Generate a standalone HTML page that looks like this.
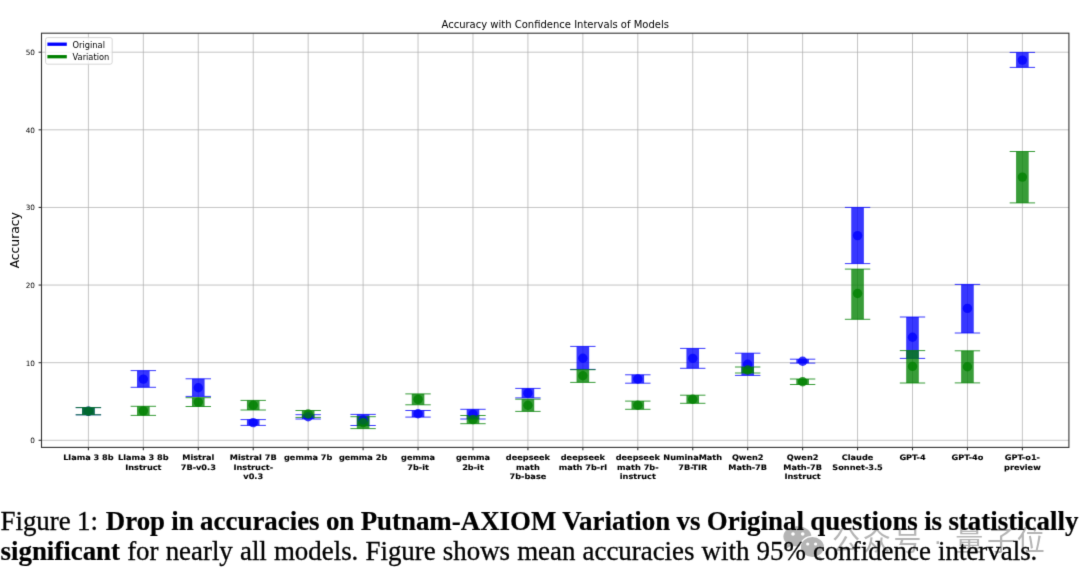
<!DOCTYPE html>
<html><head><meta charset="utf-8"><title>Accuracy with Confidence Intervals of Models</title>
<style>
html,body{margin:0;padding:0;background:#fff;}
body{width:1080px;height:586px;position:relative;overflow:hidden;}
#wrap{position:absolute;left:0;top:0;width:1080px;height:586px;background:#fff;filter:url(#bl);}
.cap{position:absolute;left:0.5px;font-family:"Liberation Serif","Times New Roman",serif;font-size:26.9px;color:#000;white-space:nowrap;line-height:1;-webkit-text-stroke:0.3px #000;}
.cap b{-webkit-text-stroke:0.2px #000;}
.l1{top:508px;word-spacing:-0.4px;}
.sp{margin-left:1.5px;}
.l2{top:537.8px;word-spacing:0.4px;}
.wm{position:absolute;left:0;top:0;}
</style></head><body>
<svg width="0" height="0" style="position:absolute"><filter id="bl" x="0" y="0" width="100%" height="100%" color-interpolation-filters="sRGB"><feConvolveMatrix order="3" kernelMatrix="0.0113 0.0838 0.0113 0.0838 0.6193 0.0838 0.0113 0.0838 0.0113" edgeMode="duplicate"/></filter></svg>
<div id="wrap">
<svg width="1080" height="586" viewBox="0 0 1080 586" style="position:absolute;left:0;top:0">
<text x="555.2" y="27.9" font-family="DejaVu Sans, sans-serif" font-size="10" text-anchor="middle" fill="#000">Accuracy with Confidence Intervals of Models</text>
<g stroke="#b0b0b0" stroke-width="0.75">
<line x1="88.40" x2="88.40" y1="33.2" y2="447.4"/>
<line x1="143.34" x2="143.34" y1="33.2" y2="447.4"/>
<line x1="198.28" x2="198.28" y1="33.2" y2="447.4"/>
<line x1="253.22" x2="253.22" y1="33.2" y2="447.4"/>
<line x1="308.16" x2="308.16" y1="33.2" y2="447.4"/>
<line x1="363.10" x2="363.10" y1="33.2" y2="447.4"/>
<line x1="418.04" x2="418.04" y1="33.2" y2="447.4"/>
<line x1="472.98" x2="472.98" y1="33.2" y2="447.4"/>
<line x1="527.92" x2="527.92" y1="33.2" y2="447.4"/>
<line x1="582.86" x2="582.86" y1="33.2" y2="447.4"/>
<line x1="637.80" x2="637.80" y1="33.2" y2="447.4"/>
<line x1="692.74" x2="692.74" y1="33.2" y2="447.4"/>
<line x1="747.68" x2="747.68" y1="33.2" y2="447.4"/>
<line x1="802.62" x2="802.62" y1="33.2" y2="447.4"/>
<line x1="857.56" x2="857.56" y1="33.2" y2="447.4"/>
<line x1="912.50" x2="912.50" y1="33.2" y2="447.4"/>
<line x1="967.44" x2="967.44" y1="33.2" y2="447.4"/>
<line x1="1022.38" x2="1022.38" y1="33.2" y2="447.4"/>
<line x1="41.5" x2="1068.9" y1="440.30" y2="440.30"/>
<line x1="41.5" x2="1068.9" y1="362.68" y2="362.68"/>
<line x1="41.5" x2="1068.9" y1="285.06" y2="285.06"/>
<line x1="41.5" x2="1068.9" y1="207.44" y2="207.44"/>
<line x1="41.5" x2="1068.9" y1="129.82" y2="129.82"/>
<line x1="41.5" x2="1068.9" y1="52.20" y2="52.20"/>
</g>
<rect x="82.10" y="407.60" width="12.6" height="7.20" fill="#0000ff" fill-opacity="0.78"/>
<rect x="137.04" y="370.60" width="12.6" height="16.70" fill="#0000ff" fill-opacity="0.78"/>
<rect x="191.98" y="378.80" width="12.6" height="17.60" fill="#0000ff" fill-opacity="0.78"/>
<rect x="246.92" y="419.60" width="12.6" height="5.80" fill="#0000ff" fill-opacity="0.78"/>
<rect x="301.86" y="414.70" width="12.6" height="4.30" fill="#0000ff" fill-opacity="0.78"/>
<rect x="356.80" y="414.40" width="12.6" height="11.10" fill="#0000ff" fill-opacity="0.78"/>
<rect x="411.74" y="410.50" width="12.6" height="6.60" fill="#0000ff" fill-opacity="0.78"/>
<rect x="466.68" y="409.30" width="12.6" height="9.70" fill="#0000ff" fill-opacity="0.78"/>
<rect x="521.62" y="388.40" width="12.6" height="9.50" fill="#0000ff" fill-opacity="0.78"/>
<rect x="576.56" y="346.40" width="12.6" height="23.00" fill="#0000ff" fill-opacity="0.78"/>
<rect x="631.50" y="374.80" width="12.6" height="8.40" fill="#0000ff" fill-opacity="0.78"/>
<rect x="686.44" y="348.40" width="12.6" height="19.90" fill="#0000ff" fill-opacity="0.78"/>
<rect x="741.38" y="353.20" width="12.6" height="22.20" fill="#0000ff" fill-opacity="0.78"/>
<rect x="796.32" y="359.20" width="12.6" height="3.90" fill="#0000ff" fill-opacity="0.78"/>
<rect x="851.26" y="207.40" width="12.6" height="56.20" fill="#0000ff" fill-opacity="0.78"/>
<rect x="906.20" y="317.00" width="12.6" height="41.40" fill="#0000ff" fill-opacity="0.78"/>
<rect x="961.14" y="284.40" width="12.6" height="48.60" fill="#0000ff" fill-opacity="0.78"/>
<rect x="1016.08" y="52.40" width="12.6" height="15.00" fill="#0000ff" fill-opacity="0.78"/>
<line x1="75.70" x2="101.10" y1="407.60" y2="407.60" stroke="#0000ff" stroke-opacity="0.78" stroke-width="1.0"/>
<line x1="75.70" x2="101.10" y1="414.80" y2="414.80" stroke="#0000ff" stroke-opacity="0.78" stroke-width="1.0"/>
<line x1="130.64" x2="156.04" y1="370.60" y2="370.60" stroke="#0000ff" stroke-opacity="0.78" stroke-width="1.0"/>
<line x1="130.64" x2="156.04" y1="387.30" y2="387.30" stroke="#0000ff" stroke-opacity="0.78" stroke-width="1.0"/>
<line x1="185.58" x2="210.98" y1="378.80" y2="378.80" stroke="#0000ff" stroke-opacity="0.78" stroke-width="1.0"/>
<line x1="185.58" x2="210.98" y1="396.40" y2="396.40" stroke="#0000ff" stroke-opacity="0.78" stroke-width="1.0"/>
<line x1="240.52" x2="265.92" y1="419.60" y2="419.60" stroke="#0000ff" stroke-opacity="0.78" stroke-width="1.0"/>
<line x1="240.52" x2="265.92" y1="425.40" y2="425.40" stroke="#0000ff" stroke-opacity="0.78" stroke-width="1.0"/>
<line x1="295.46" x2="320.86" y1="414.70" y2="414.70" stroke="#0000ff" stroke-opacity="0.78" stroke-width="1.0"/>
<line x1="295.46" x2="320.86" y1="419.00" y2="419.00" stroke="#0000ff" stroke-opacity="0.78" stroke-width="1.0"/>
<line x1="350.40" x2="375.80" y1="414.40" y2="414.40" stroke="#0000ff" stroke-opacity="0.78" stroke-width="1.0"/>
<line x1="350.40" x2="375.80" y1="425.50" y2="425.50" stroke="#0000ff" stroke-opacity="0.78" stroke-width="1.0"/>
<line x1="405.34" x2="430.74" y1="410.50" y2="410.50" stroke="#0000ff" stroke-opacity="0.78" stroke-width="1.0"/>
<line x1="405.34" x2="430.74" y1="417.10" y2="417.10" stroke="#0000ff" stroke-opacity="0.78" stroke-width="1.0"/>
<line x1="460.28" x2="485.68" y1="409.30" y2="409.30" stroke="#0000ff" stroke-opacity="0.78" stroke-width="1.0"/>
<line x1="460.28" x2="485.68" y1="419.00" y2="419.00" stroke="#0000ff" stroke-opacity="0.78" stroke-width="1.0"/>
<line x1="515.22" x2="540.62" y1="388.40" y2="388.40" stroke="#0000ff" stroke-opacity="0.78" stroke-width="1.0"/>
<line x1="515.22" x2="540.62" y1="397.90" y2="397.90" stroke="#0000ff" stroke-opacity="0.78" stroke-width="1.0"/>
<line x1="570.16" x2="595.56" y1="346.40" y2="346.40" stroke="#0000ff" stroke-opacity="0.78" stroke-width="1.0"/>
<line x1="570.16" x2="595.56" y1="369.40" y2="369.40" stroke="#0000ff" stroke-opacity="0.78" stroke-width="1.0"/>
<line x1="625.10" x2="650.50" y1="374.80" y2="374.80" stroke="#0000ff" stroke-opacity="0.78" stroke-width="1.0"/>
<line x1="625.10" x2="650.50" y1="383.20" y2="383.20" stroke="#0000ff" stroke-opacity="0.78" stroke-width="1.0"/>
<line x1="680.04" x2="705.44" y1="348.40" y2="348.40" stroke="#0000ff" stroke-opacity="0.78" stroke-width="1.0"/>
<line x1="680.04" x2="705.44" y1="368.30" y2="368.30" stroke="#0000ff" stroke-opacity="0.78" stroke-width="1.0"/>
<line x1="734.98" x2="760.38" y1="353.20" y2="353.20" stroke="#0000ff" stroke-opacity="0.78" stroke-width="1.0"/>
<line x1="734.98" x2="760.38" y1="375.40" y2="375.40" stroke="#0000ff" stroke-opacity="0.78" stroke-width="1.0"/>
<line x1="789.92" x2="815.32" y1="359.20" y2="359.20" stroke="#0000ff" stroke-opacity="0.78" stroke-width="1.0"/>
<line x1="789.92" x2="815.32" y1="363.10" y2="363.10" stroke="#0000ff" stroke-opacity="0.78" stroke-width="1.0"/>
<line x1="844.86" x2="870.26" y1="207.40" y2="207.40" stroke="#0000ff" stroke-opacity="0.78" stroke-width="1.0"/>
<line x1="844.86" x2="870.26" y1="263.60" y2="263.60" stroke="#0000ff" stroke-opacity="0.78" stroke-width="1.0"/>
<line x1="899.80" x2="925.20" y1="317.00" y2="317.00" stroke="#0000ff" stroke-opacity="0.78" stroke-width="1.0"/>
<line x1="899.80" x2="925.20" y1="358.40" y2="358.40" stroke="#0000ff" stroke-opacity="0.78" stroke-width="1.0"/>
<line x1="954.74" x2="980.14" y1="284.40" y2="284.40" stroke="#0000ff" stroke-opacity="0.78" stroke-width="1.0"/>
<line x1="954.74" x2="980.14" y1="333.00" y2="333.00" stroke="#0000ff" stroke-opacity="0.78" stroke-width="1.0"/>
<line x1="1009.68" x2="1035.08" y1="52.40" y2="52.40" stroke="#0000ff" stroke-opacity="0.78" stroke-width="1.0"/>
<line x1="1009.68" x2="1035.08" y1="67.40" y2="67.40" stroke="#0000ff" stroke-opacity="0.78" stroke-width="1.0"/>
<rect x="82.10" y="407.60" width="12.6" height="7.20" fill="#008000" fill-opacity="0.78"/>
<rect x="137.04" y="406.30" width="12.6" height="9.10" fill="#008000" fill-opacity="0.78"/>
<rect x="191.98" y="397.70" width="12.6" height="8.80" fill="#008000" fill-opacity="0.78"/>
<rect x="246.92" y="400.40" width="12.6" height="9.60" fill="#008000" fill-opacity="0.78"/>
<rect x="301.86" y="410.50" width="12.6" height="6.90" fill="#008000" fill-opacity="0.78"/>
<rect x="356.80" y="416.70" width="12.6" height="11.90" fill="#008000" fill-opacity="0.78"/>
<rect x="411.74" y="393.90" width="12.6" height="10.90" fill="#008000" fill-opacity="0.78"/>
<rect x="466.68" y="415.50" width="12.6" height="8.20" fill="#008000" fill-opacity="0.78"/>
<rect x="521.62" y="399.20" width="12.6" height="12.20" fill="#008000" fill-opacity="0.78"/>
<rect x="576.56" y="369.70" width="12.6" height="12.70" fill="#008000" fill-opacity="0.78"/>
<rect x="631.50" y="401.10" width="12.6" height="8.20" fill="#008000" fill-opacity="0.78"/>
<rect x="686.44" y="395.20" width="12.6" height="8.10" fill="#008000" fill-opacity="0.78"/>
<rect x="741.38" y="367.00" width="12.6" height="6.00" fill="#008000" fill-opacity="0.78"/>
<rect x="796.32" y="379.00" width="12.6" height="5.50" fill="#008000" fill-opacity="0.78"/>
<rect x="851.26" y="269.10" width="12.6" height="50.20" fill="#008000" fill-opacity="0.78"/>
<rect x="906.20" y="350.60" width="12.6" height="32.40" fill="#008000" fill-opacity="0.78"/>
<rect x="961.14" y="350.80" width="12.6" height="32.10" fill="#008000" fill-opacity="0.78"/>
<rect x="1016.08" y="151.50" width="12.6" height="51.40" fill="#008000" fill-opacity="0.78"/>
<line x1="75.70" x2="101.10" y1="407.60" y2="407.60" stroke="#008000" stroke-opacity="0.78" stroke-width="1.0"/>
<line x1="75.70" x2="101.10" y1="414.80" y2="414.80" stroke="#008000" stroke-opacity="0.78" stroke-width="1.0"/>
<line x1="130.64" x2="156.04" y1="406.30" y2="406.30" stroke="#008000" stroke-opacity="0.78" stroke-width="1.0"/>
<line x1="130.64" x2="156.04" y1="415.40" y2="415.40" stroke="#008000" stroke-opacity="0.78" stroke-width="1.0"/>
<line x1="185.58" x2="210.98" y1="397.70" y2="397.70" stroke="#008000" stroke-opacity="0.78" stroke-width="1.0"/>
<line x1="185.58" x2="210.98" y1="406.50" y2="406.50" stroke="#008000" stroke-opacity="0.78" stroke-width="1.0"/>
<line x1="240.52" x2="265.92" y1="400.40" y2="400.40" stroke="#008000" stroke-opacity="0.78" stroke-width="1.0"/>
<line x1="240.52" x2="265.92" y1="410.00" y2="410.00" stroke="#008000" stroke-opacity="0.78" stroke-width="1.0"/>
<line x1="295.46" x2="320.86" y1="410.50" y2="410.50" stroke="#008000" stroke-opacity="0.78" stroke-width="1.0"/>
<line x1="295.46" x2="320.86" y1="417.40" y2="417.40" stroke="#008000" stroke-opacity="0.78" stroke-width="1.0"/>
<line x1="350.40" x2="375.80" y1="416.70" y2="416.70" stroke="#008000" stroke-opacity="0.78" stroke-width="1.0"/>
<line x1="350.40" x2="375.80" y1="428.60" y2="428.60" stroke="#008000" stroke-opacity="0.78" stroke-width="1.0"/>
<line x1="405.34" x2="430.74" y1="393.90" y2="393.90" stroke="#008000" stroke-opacity="0.78" stroke-width="1.0"/>
<line x1="405.34" x2="430.74" y1="404.80" y2="404.80" stroke="#008000" stroke-opacity="0.78" stroke-width="1.0"/>
<line x1="460.28" x2="485.68" y1="415.50" y2="415.50" stroke="#008000" stroke-opacity="0.78" stroke-width="1.0"/>
<line x1="460.28" x2="485.68" y1="423.70" y2="423.70" stroke="#008000" stroke-opacity="0.78" stroke-width="1.0"/>
<line x1="515.22" x2="540.62" y1="399.20" y2="399.20" stroke="#008000" stroke-opacity="0.78" stroke-width="1.0"/>
<line x1="515.22" x2="540.62" y1="411.40" y2="411.40" stroke="#008000" stroke-opacity="0.78" stroke-width="1.0"/>
<line x1="570.16" x2="595.56" y1="369.70" y2="369.70" stroke="#008000" stroke-opacity="0.78" stroke-width="1.0"/>
<line x1="570.16" x2="595.56" y1="382.40" y2="382.40" stroke="#008000" stroke-opacity="0.78" stroke-width="1.0"/>
<line x1="625.10" x2="650.50" y1="401.10" y2="401.10" stroke="#008000" stroke-opacity="0.78" stroke-width="1.0"/>
<line x1="625.10" x2="650.50" y1="409.30" y2="409.30" stroke="#008000" stroke-opacity="0.78" stroke-width="1.0"/>
<line x1="680.04" x2="705.44" y1="395.20" y2="395.20" stroke="#008000" stroke-opacity="0.78" stroke-width="1.0"/>
<line x1="680.04" x2="705.44" y1="403.30" y2="403.30" stroke="#008000" stroke-opacity="0.78" stroke-width="1.0"/>
<line x1="734.98" x2="760.38" y1="367.00" y2="367.00" stroke="#008000" stroke-opacity="0.78" stroke-width="1.0"/>
<line x1="734.98" x2="760.38" y1="373.00" y2="373.00" stroke="#008000" stroke-opacity="0.78" stroke-width="1.0"/>
<line x1="789.92" x2="815.32" y1="379.00" y2="379.00" stroke="#008000" stroke-opacity="0.78" stroke-width="1.0"/>
<line x1="789.92" x2="815.32" y1="384.50" y2="384.50" stroke="#008000" stroke-opacity="0.78" stroke-width="1.0"/>
<line x1="844.86" x2="870.26" y1="269.10" y2="269.10" stroke="#008000" stroke-opacity="0.78" stroke-width="1.0"/>
<line x1="844.86" x2="870.26" y1="319.30" y2="319.30" stroke="#008000" stroke-opacity="0.78" stroke-width="1.0"/>
<line x1="899.80" x2="925.20" y1="350.60" y2="350.60" stroke="#008000" stroke-opacity="0.78" stroke-width="1.0"/>
<line x1="899.80" x2="925.20" y1="383.00" y2="383.00" stroke="#008000" stroke-opacity="0.78" stroke-width="1.0"/>
<line x1="954.74" x2="980.14" y1="350.80" y2="350.80" stroke="#008000" stroke-opacity="0.78" stroke-width="1.0"/>
<line x1="954.74" x2="980.14" y1="382.90" y2="382.90" stroke="#008000" stroke-opacity="0.78" stroke-width="1.0"/>
<line x1="1009.68" x2="1035.08" y1="151.50" y2="151.50" stroke="#008000" stroke-opacity="0.78" stroke-width="1.0"/>
<line x1="1009.68" x2="1035.08" y1="202.90" y2="202.90" stroke="#008000" stroke-opacity="0.78" stroke-width="1.0"/>
<circle cx="88.40" cy="411.20" r="4.7" fill="#0000ff" fill-opacity="0.78"/>
<circle cx="143.34" cy="379.10" r="4.7" fill="#0000ff" fill-opacity="0.78"/>
<circle cx="198.28" cy="387.70" r="4.7" fill="#0000ff" fill-opacity="0.78"/>
<circle cx="253.22" cy="422.60" r="4.7" fill="#0000ff" fill-opacity="0.78"/>
<circle cx="308.16" cy="416.80" r="4.7" fill="#0000ff" fill-opacity="0.78"/>
<circle cx="363.10" cy="419.95" r="4.7" fill="#0000ff" fill-opacity="0.78"/>
<circle cx="418.04" cy="413.80" r="4.7" fill="#0000ff" fill-opacity="0.78"/>
<circle cx="472.98" cy="414.15" r="4.7" fill="#0000ff" fill-opacity="0.78"/>
<circle cx="527.92" cy="393.15" r="4.7" fill="#0000ff" fill-opacity="0.78"/>
<circle cx="582.86" cy="358.30" r="4.7" fill="#0000ff" fill-opacity="0.78"/>
<circle cx="637.80" cy="379.00" r="4.7" fill="#0000ff" fill-opacity="0.78"/>
<circle cx="692.74" cy="358.35" r="4.7" fill="#0000ff" fill-opacity="0.78"/>
<circle cx="747.68" cy="364.30" r="4.7" fill="#0000ff" fill-opacity="0.78"/>
<circle cx="802.62" cy="361.30" r="4.7" fill="#0000ff" fill-opacity="0.78"/>
<circle cx="857.56" cy="235.60" r="4.7" fill="#0000ff" fill-opacity="0.78"/>
<circle cx="912.50" cy="337.20" r="4.7" fill="#0000ff" fill-opacity="0.78"/>
<circle cx="967.44" cy="308.40" r="4.7" fill="#0000ff" fill-opacity="0.78"/>
<circle cx="1022.38" cy="60.10" r="4.7" fill="#0000ff" fill-opacity="0.78"/>
<circle cx="88.40" cy="411.20" r="4.7" fill="#008000" fill-opacity="0.78"/>
<circle cx="143.34" cy="410.85" r="4.7" fill="#008000" fill-opacity="0.78"/>
<circle cx="198.28" cy="402.10" r="4.7" fill="#008000" fill-opacity="0.78"/>
<circle cx="253.22" cy="405.20" r="4.7" fill="#008000" fill-opacity="0.78"/>
<circle cx="308.16" cy="414.00" r="4.7" fill="#008000" fill-opacity="0.78"/>
<circle cx="363.10" cy="422.65" r="4.7" fill="#008000" fill-opacity="0.78"/>
<circle cx="418.04" cy="399.35" r="4.7" fill="#008000" fill-opacity="0.78"/>
<circle cx="472.98" cy="419.60" r="4.7" fill="#008000" fill-opacity="0.78"/>
<circle cx="527.92" cy="405.30" r="4.7" fill="#008000" fill-opacity="0.78"/>
<circle cx="582.86" cy="375.80" r="4.7" fill="#008000" fill-opacity="0.78"/>
<circle cx="637.80" cy="405.20" r="4.7" fill="#008000" fill-opacity="0.78"/>
<circle cx="692.74" cy="399.25" r="4.7" fill="#008000" fill-opacity="0.78"/>
<circle cx="747.68" cy="370.00" r="4.7" fill="#008000" fill-opacity="0.78"/>
<circle cx="802.62" cy="381.70" r="4.7" fill="#008000" fill-opacity="0.78"/>
<circle cx="857.56" cy="293.50" r="4.7" fill="#008000" fill-opacity="0.78"/>
<circle cx="912.50" cy="366.40" r="4.7" fill="#008000" fill-opacity="0.78"/>
<circle cx="967.44" cy="366.70" r="4.7" fill="#008000" fill-opacity="0.78"/>
<circle cx="1022.38" cy="177.10" r="4.7" fill="#008000" fill-opacity="0.78"/>
<rect x="41.5" y="33.2" width="1027.40" height="414.20" fill="none" stroke="#333" stroke-width="1.1"/>
<g stroke="#333" stroke-width="1.1">
<line x1="88.40" x2="88.40" y1="447.4" y2="450.30"/>
<line x1="143.34" x2="143.34" y1="447.4" y2="450.30"/>
<line x1="198.28" x2="198.28" y1="447.4" y2="450.30"/>
<line x1="253.22" x2="253.22" y1="447.4" y2="450.30"/>
<line x1="308.16" x2="308.16" y1="447.4" y2="450.30"/>
<line x1="363.10" x2="363.10" y1="447.4" y2="450.30"/>
<line x1="418.04" x2="418.04" y1="447.4" y2="450.30"/>
<line x1="472.98" x2="472.98" y1="447.4" y2="450.30"/>
<line x1="527.92" x2="527.92" y1="447.4" y2="450.30"/>
<line x1="582.86" x2="582.86" y1="447.4" y2="450.30"/>
<line x1="637.80" x2="637.80" y1="447.4" y2="450.30"/>
<line x1="692.74" x2="692.74" y1="447.4" y2="450.30"/>
<line x1="747.68" x2="747.68" y1="447.4" y2="450.30"/>
<line x1="802.62" x2="802.62" y1="447.4" y2="450.30"/>
<line x1="857.56" x2="857.56" y1="447.4" y2="450.30"/>
<line x1="912.50" x2="912.50" y1="447.4" y2="450.30"/>
<line x1="967.44" x2="967.44" y1="447.4" y2="450.30"/>
<line x1="1022.38" x2="1022.38" y1="447.4" y2="450.30"/>
<line x1="38.60" x2="41.5" y1="440.30" y2="440.30"/>
<line x1="38.60" x2="41.5" y1="362.68" y2="362.68"/>
<line x1="38.60" x2="41.5" y1="285.06" y2="285.06"/>
<line x1="38.60" x2="41.5" y1="207.44" y2="207.44"/>
<line x1="38.60" x2="41.5" y1="129.82" y2="129.82"/>
<line x1="38.60" x2="41.5" y1="52.20" y2="52.20"/>
</g>
<g font-family="DejaVu Sans, sans-serif" font-size="7.3" text-anchor="end" fill="#000">
<text x="35.0" y="443.30">0</text>
<text x="35.0" y="365.68">10</text>
<text x="35.0" y="288.06">20</text>
<text x="35.0" y="210.44">30</text>
<text x="35.0" y="132.82">40</text>
<text x="35.0" y="55.20">50</text>
</g>
<g font-family="DejaVu Sans, sans-serif" font-weight="bold" font-size="8.2" text-anchor="middle" fill="#000" stroke="#000" stroke-width="0.12">
<text transform="translate(88.40,459.90) scale(1,0.92)">Llama 3 8b</text>
<text transform="translate(143.34,459.90) scale(1,0.92)">Llama 3 8b</text>
<text transform="translate(143.34,469.60) scale(1,0.92)">Instruct</text>
<text transform="translate(198.28,459.90) scale(1,0.92)">Mistral</text>
<text transform="translate(198.28,469.60) scale(1,0.92)">7B-v0.3</text>
<text transform="translate(253.22,459.90) scale(1,0.92)">Mistral 7B</text>
<text transform="translate(253.22,469.60) scale(1,0.92)">Instruct-</text>
<text transform="translate(253.22,479.30) scale(1,0.92)">v0.3</text>
<text transform="translate(308.16,459.90) scale(1,0.92)">gemma 7b</text>
<text transform="translate(363.10,459.90) scale(1,0.92)">gemma 2b</text>
<text transform="translate(418.04,459.90) scale(1,0.92)">gemma</text>
<text transform="translate(418.04,469.60) scale(1,0.92)">7b-it</text>
<text transform="translate(472.98,459.90) scale(1,0.92)">gemma</text>
<text transform="translate(472.98,469.60) scale(1,0.92)">2b-it</text>
<text transform="translate(527.92,459.90) scale(1,0.92)">deepseek</text>
<text transform="translate(527.92,469.60) scale(1,0.92)">math</text>
<text transform="translate(527.92,479.30) scale(1,0.92)">7b-base</text>
<text transform="translate(582.86,459.90) scale(1,0.92)">deepseek</text>
<text transform="translate(582.86,469.60) scale(1,0.92)">math 7b-rl</text>
<text transform="translate(637.80,459.90) scale(1,0.92)">deepseek</text>
<text transform="translate(637.80,469.60) scale(1,0.92)">math 7b-</text>
<text transform="translate(637.80,479.30) scale(1,0.92)">instruct</text>
<text transform="translate(692.74,459.90) scale(1,0.92)">NuminaMath</text>
<text transform="translate(692.74,469.60) scale(1,0.92)">7B-TIR</text>
<text transform="translate(747.68,459.90) scale(1,0.92)">Qwen2</text>
<text transform="translate(747.68,469.60) scale(1,0.92)">Math-7B</text>
<text transform="translate(802.62,459.90) scale(1,0.92)">Qwen2</text>
<text transform="translate(802.62,469.60) scale(1,0.92)">Math-7B</text>
<text transform="translate(802.62,479.30) scale(1,0.92)">Instruct</text>
<text transform="translate(857.56,459.90) scale(1,0.92)">Claude</text>
<text transform="translate(857.56,469.60) scale(1,0.92)">Sonnet-3.5</text>
<text transform="translate(912.50,459.90) scale(1,0.92)">GPT-4</text>
<text transform="translate(967.44,459.90) scale(1,0.92)">GPT-4o</text>
<text transform="translate(1022.38,459.90) scale(1,0.92)">GPT-o1-</text>
<text transform="translate(1022.38,469.60) scale(1,0.92)">preview</text>
</g>
<text transform="translate(18.6,240.3) rotate(-90)" font-family="DejaVu Sans, sans-serif" font-size="12.3" text-anchor="middle" fill="#000">Accuracy</text>
<rect x="45.6" y="37.6" width="66.6" height="26.6" rx="2" ry="2" fill="#fff" fill-opacity="0.8" stroke="#cccccc" stroke-width="0.8"/>
<line x1="47.4" x2="66.8" y1="44.2" y2="44.2" stroke="#0000ff" stroke-width="3.3"/>
<line x1="47.4" x2="66.8" y1="56.7" y2="56.7" stroke="#008000" stroke-width="3.3"/>
<text x="72.6" y="47.9" font-family="DejaVu Sans, sans-serif" font-size="8.28" fill="#000">Original</text>
<text x="72.6" y="60.3" font-family="DejaVu Sans, sans-serif" font-size="8.28" fill="#000">Variation</text>
</svg>

<svg class="wm" width="1080" height="586" viewBox="0 0 1080 586">
<g fill="#b4b4b4">
<ellipse cx="797.4" cy="536.4" rx="14" ry="10.2"/>
<path d="M786.5 542 L784.5 549.5 L792.5 545 Z"/>
<path d="M817 553 L822.5 559.5 L812 555.5 Z"/>
<ellipse cx="812.4" cy="547" rx="12.1" ry="10.7" stroke="#fff" stroke-width="1.2"/>
</g>
<g fill="#fff"><circle cx="793" cy="534" r="1.8"/><circle cx="802.7" cy="534" r="1.8"/><circle cx="807.7" cy="544" r="1.6"/><circle cx="815.6" cy="544" r="1.6"/></g>
<text y="551" font-family="Liberation Sans, Noto Sans CJK SC, sans-serif" font-weight="400" font-size="28" fill="#b4b4b4"><tspan x="832">公</tspan><tspan x="862.8">众</tspan><tspan x="893.6">号</tspan><tspan x="924.4"> </tspan><tspan x="933.5" y="550.3" font-size="26">·</tspan><tspan> </tspan><tspan x="955.2" y="551">量</tspan><tspan x="987">子</tspan><tspan x="1016.8">位</tspan></text>
</svg>
<div class="cap l1">Figure 1: <b class="sp">Drop in accuracies on Putnam-AXIOM Variation vs Original questions is statistically</b></div>
<div class="cap l2"><b>significant</b> for nearly all models. Figure shows mean accuracies with 95% confidence intervals.</div>
</div>
</body></html>
